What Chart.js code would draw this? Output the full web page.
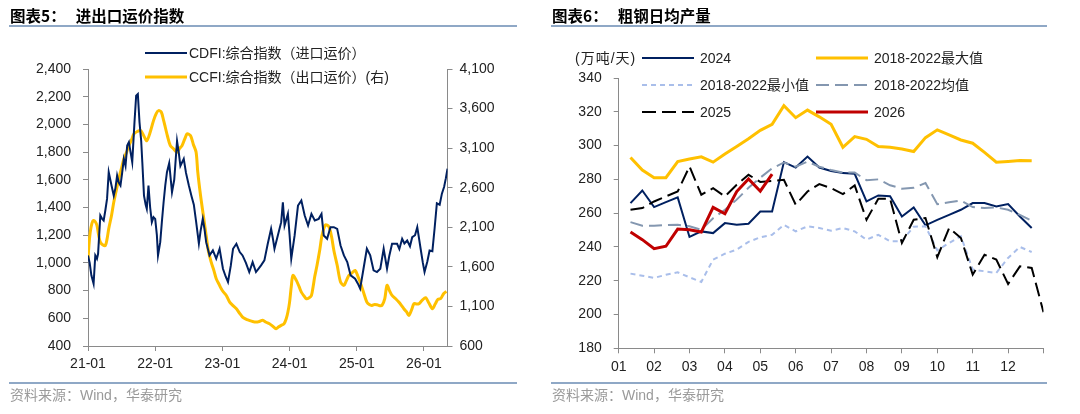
<!DOCTYPE html>
<html>
<head>
<meta charset="utf-8">
<script src="https://cdn.jsdelivr.net/npm/chart.js@4.4.1/dist/chart.umd.min.js"></script>
<style>
body{margin:0;background:#fff;}
#page{position:relative;width:1080px;height:414px;overflow:hidden;font-family:"Liberation Sans",Arial,"Noto Sans CJK SC",sans-serif;}
canvas{position:absolute;top:0;}
.ttl{position:absolute;top:6px;font-family:"Noto Sans CJK SC",sans-serif;font-weight:bold;font-size:15.5px;line-height:18px;color:#000;white-space:nowrap;z-index:2;}
.ttl span{margin-left:10px;}
.rule{position:absolute;height:2px;background:#8fa8c6;z-index:2;}
.src{position:absolute;top:386px;font-family:"Liberation Sans","Noto Sans CJK SC",sans-serif;font-size:14px;line-height:18px;color:#9a9a9a;white-space:nowrap;z-index:2;}
.lg{position:absolute;font-size:14px;line-height:16px;color:#222;white-space:nowrap;z-index:2;}
.sw{position:absolute;z-index:2;}
</style>
</head>
<body>
<div id="page">
  <canvas id="freight" width="540" height="414" style="left:0"></canvas>
  <canvas id="steel" width="540" height="414" style="left:540px"></canvas>

  <div class="ttl" style="left:10px">图表5：<span>进出口运价指数</span></div>
  <div class="rule" style="left:9px;top:25px;width:508px"></div>
  <div class="rule" style="left:9px;top:382px;width:508px"></div>
  <div class="src" style="left:10px">资料来源：Wind，华泰研究</div>

  <div class="ttl" style="left:552px">图表6：<span>粗钢日均产量</span></div>
  <div class="rule" style="left:551px;top:25px;width:496px"></div>
  <div class="rule" style="left:551px;top:382px;width:496px"></div>
  <div class="src" style="left:552px">资料来源：Wind，华泰研究</div>

  <!-- left legend -->
  <svg class="sw" style="left:145px;top:49px" width="42" height="8"><line x1="0" y1="4" x2="42" y2="4" stroke="#002060" stroke-width="2"/></svg>
  <div class="lg" style="left:189px;top:45px">CDFI:综合指数（进口运价）</div>
  <svg class="sw" style="left:145px;top:73px" width="42" height="8"><line x1="0" y1="4" x2="42" y2="4" stroke="#FFC000" stroke-width="3"/></svg>
  <div class="lg" style="left:189px;top:69px">CCFI:综合指数（出口运价）(右)</div>

  <!-- right legend -->
  <div class="lg" style="left:575px;top:50px;letter-spacing:1px">(万吨/天)</div>
  <svg class="sw" style="left:642px;top:54px" width="52" height="8"><line x1="0" y1="4" x2="52" y2="4" stroke="#002060" stroke-width="2"/></svg>
  <div class="lg" style="left:700px;top:50px">2024</div>
  <svg class="sw" style="left:816px;top:54px" width="52" height="8"><line x1="0" y1="4" x2="52" y2="4" stroke="#FFC000" stroke-width="3"/></svg>
  <div class="lg" style="left:874px;top:50px">2018-2022最大值</div>
  <svg class="sw" style="left:642px;top:81px" width="52" height="8"><line x1="0" y1="4" x2="52" y2="4" stroke="#A9BEEA" stroke-width="2" stroke-dasharray="5,4"/></svg>
  <div class="lg" style="left:700px;top:77px">2018-2022最小值</div>
  <svg class="sw" style="left:816px;top:81px" width="52" height="8"><line x1="0" y1="4" x2="52" y2="4" stroke="#8497B0" stroke-width="2" stroke-dasharray="13,6"/></svg>
  <div class="lg" style="left:874px;top:77px">2018-2022均值</div>
  <svg class="sw" style="left:642px;top:108px" width="52" height="8"><line x1="0" y1="4" x2="52" y2="4" stroke="#000" stroke-width="2" stroke-dasharray="14,6"/></svg>
  <div class="lg" style="left:700px;top:104px">2025</div>
  <svg class="sw" style="left:816px;top:108px" width="52" height="8"><line x1="0" y1="4" x2="52" y2="4" stroke="#C00000" stroke-width="3"/></svg>
  <div class="lg" style="left:874px;top:104px">2026</div>
</div>

<script>
// ---- 图表5: freight indices, x = months since 2021-01 ----
var cdfiMonth = [0,0.3,0.6,1.0,1.3,1.6,1.8,2.2,2.5,2.8,
  3.1,3.4,3.7,4.2,4.6,4.9,5.2,5.5,5.8,6.1,
  6.4,6.7,7.0,7.3,7.6,7.9,8.3,8.6,8.9,9.2,
  9.5,9.7,10.0,10.3,10.5,10.8,11.1,11.4,11.7,12.0,
  12.3,12.5,12.9,13.2,13.5,13.8,14.1,14.5,15.0,15.4,
  15.9,16.2,16.5,17.1,17.5,18.0,18.5,18.9,19.3,19.8,
  20.1,20.5,20.8,21.1,21.7,22.3,22.9,23.5,24.1,24.6,
  25.0,25.5,25.9,26.5,27.1,27.6,28.2,28.8,29.4,30.0,
  30.5,30.9,31.5,32.1,32.7,33.0,33.3,33.9,34.5,34.8,
  35.1,35.7,36.0,36.3,36.9,37.5,38.1,38.7,39.3,39.9,
  40.5,41.2,41.7,42.1,42.7,43.3,43.9,44.5,45.1,45.7,
  46.3,46.9,47.7,48.2,48.6,49.2,49.8,50.4,51.0,51.6,
  52.2,52.8,53.4,53.8,54.3,55.2,55.6,56.1,56.5,57.0,
  57.5,57.9,58.4,58.8,59.1,59.4,59.8,60.1,60.6,61.0,
  61.5,61.9,62.3,62.8,63.2,63.6,63.9,64.2];
var cdfiValue = [1054,1000,910,849,1054,1030,1066,1342,1320,1306,
  1380,1462,1655,1559,1486,1540,1631,1580,1559,1650,
  1751,1700,1847,1871,1800,1727,2015,2208,2220,2015,
  1880,1727,1486,1420,1390,1559,1400,1294,1330,1318,
  1200,1054,1150,1300,1438,1560,1655,1720,1510,1600,
  1880,1800,1700,1751,1650,1560,1480,1420,1300,1140,
  1230,1318,1246,1150,1054,1090,1030,1102,958,900,
  862,980,1102,1138,1078,1054,1000,934,1006,934,
  960,982,1018,1138,1246,1180,1102,1198,1294,1438,
  1270,1354,1200,1030,1198,1414,1450,1342,1270,1354,
  1306,1318,1354,1198,1174,1258,1258,1246,1126,1054,
  1006,910,886,850,814,958,1102,1054,946,934,
  958,1102,958,1050,1138,1138,1100,1174,1140,1162,
  1120,1186,1200,1258,1180,1102,1000,934,1010,1090,
  1085,1250,1430,1420,1500,1550,1610,1680];

var ccfiMonth = [0,0.2,0.4,0.7,1.0,1.3,1.6,1.9,2.2,2.6,
  3.1,3.4,3.7,4.2,4.6,5.0,5.5,6.0,6.4,6.9,
  7.3,7.8,8.2,8.8,9.4,10.0,10.5,11.1,11.7,12.2,
  12.6,13.1,13.5,13.8,14.2,14.7,15.3,15.9,16.4,16.8,
  17.3,17.7,18.3,18.8,19.3,19.6,20.1,20.6,21.1,21.5,
  22.0,22.5,22.9,23.4,23.8,24.2,24.7,25.3,25.9,26.5,
  27.0,27.6,28.2,28.8,29.4,30.0,30.6,31.2,31.8,32.4,
  33.0,33.6,34.0,34.5,35.0,35.4,35.7,36.0,36.3,36.6,
  37.2,37.7,38.1,38.6,39.0,39.5,39.9,40.2,40.5,40.9,
  41.4,41.8,42.4,43.0,43.5,43.9,44.5,45.1,45.7,46.1,
  46.6,47.1,47.7,48.2,48.6,49.2,49.8,50.3,50.7,51.2,
  51.6,52.1,52.5,53.0,53.4,53.9,54.3,54.9,55.5,56.0,
  56.4,56.9,57.3,57.8,58.2,58.7,59.1,59.7,60.3,60.9,
  61.5,62.0,62.5,63.0,63.5,64.0];
var ccfiValue = [1702,1900,2039,2150,2186,2170,2123,2000,1912,1880,
  1870,1950,2081,2250,2417,2550,2712,2850,2964,3050,
  3132,3210,3280,3310,3322,3250,3195,3300,3448,3540,
  3574,3553,3450,3364,3250,3132,3090,3048,3100,3132,
  3220,3280,3259,3150,3050,2800,2501,2250,1996,1800,
  1660,1550,1450,1380,1323,1280,1239,1155,1110,1071,
  1020,966,940,924,910,903,910,924,900,882,
  850,819,840,861,880,945,1030,1155,1350,1492,
  1429,1350,1281,1230,1197,1210,1239,1350,1480,1620,
  1820,2000,2130,2110,1980,1810,1620,1408,1366,1420,
  1492,1520,1555,1480,1408,1280,1155,1120,1113,1125,
  1121,1110,1113,1200,1366,1290,1239,1200,1155,1110,
  1071,1030,987,1060,1134,1130,1134,1180,1210,1140,
  1071,1130,1190,1200,1260,1290];

var freightTickLabels = ['21-01','22-01','23-01','24-01','25-01','26-01'];

// ---- 图表6: crude steel daily output, one value per ten-day period ----
var monthLabels = ['01','02','03','04','05','06','07','08','09','10','11','12'];
var steel2024 = [265.9,273.4,263.6,266.5,269.3,245.9,249.2,248.2,254.1,253.1,253.7,261,261,290.2,287,293.5,287,285,283.7,283.3,267,270.5,270,258,263.4,252.8,256,259,262,266,266,264,265.4,258,251.2];
var steelMax = [293,285.5,281,281,290.5,292,293.3,290.2,295,299.5,304,309,312.6,323.6,316.5,321,317,312.6,299,305.3,303.7,299.4,299,298,296.5,304.7,309.3,306.3,303.3,301.4,296,290.2,290.6,291.1,291];
var steelMin = [224.2,223,221.7,223.5,225,222,219.3,232.5,236,238.4,243,245.7,247.2,253.1,249.2,252.2,251.2,249.6,251.2,249.2,244.3,247.2,243.3,243.5,252,252.2,238,242.3,246.3,226.6,225.6,224.6,233.5,240,237];
var steelAvg = [254.7,252.6,252.6,253,253.1,252.2,250.2,257,262,268,275,281,286.5,290,287.5,290.5,287.5,285.5,284,284,279.5,280,276.5,274.5,275,277.8,265.3,266.5,267.5,263.6,263,263.4,262,259,255.5];
var steel2025 = [262,263,266.9,269.9,272.8,287.6,270.9,274.8,269.9,276.8,282.7,278.5,279.1,279.7,265,272.8,277.2,274.8,271.3,276.4,256.1,268.5,268.5,242.3,256.1,257.1,233.9,251.2,245.3,223.6,235.4,232.5,218.1,228.5,227.6,201.4];
var steel2026 = [248.8,244.3,239,240.4,250.6,250.2,248.8,263.4,259.6,272.8,280.3,273,283.1];

Chart.defaults.font.family = '"Liberation Sans", Arial, sans-serif';
Chart.defaults.font.size = 14;
Chart.defaults.color = '#222';
var axisGray = '#8a8a8a';

function pts(xs, ys) {
  return ys.map(function (y, i) { return {x: xs[i], y: y}; });
}
function dekads(ys) {
  return ys.map(function (y, i) { return {x: i + 1, y: y}; });
}
function width(w) { return function (s) { s.width = w; }; }
function height(h) { return function (s) { s.height = h; }; }
var tickGrid = {drawOnChartArea: false, tickLength: 5, color: axisGray};
var axisBorder = {display: true, color: axisGray, width: 1};

new Chart(document.getElementById('freight'), {
  type: 'line',
  data: {
    datasets: [
      {label: 'CDFI:综合指数（进口运价）', data: pts(cdfiMonth, cdfiValue), yAxisID: 'y',
       borderColor: '#002060', borderWidth: 2, pointRadius: 0, tension: 0},
      {label: 'CCFI:综合指数（出口运价）(右)', data: pts(ccfiMonth, ccfiValue), yAxisID: 'y1',
       borderColor: '#FFC000', borderWidth: 3, pointRadius: 0, tension: 0.3}
    ]
  },
  options: {
    responsive: false,
    animation: false,
    layout: {padding: {top: 69, left: 0, right: 0, bottom: 0}},
    plugins: {legend: {display: false}, tooltip: {enabled: false}},
    scales: {
      x: {
        type: 'linear', min: 0, max: 64.2,
        grid: tickGrid, border: axisBorder,
        ticks: {stepSize: 12, includeBounds: false, maxRotation: 0, autoSkip: false, padding: 5,
          callback: function (v) { return v % 12 === 0 ? freightTickLabels[v / 12] : ''; }},
        afterFit: height(68)
      },
      y: {
        position: 'left', min: 400, max: 2400,
        grid: tickGrid, border: axisBorder,
        ticks: {stepSize: 200, padding: 12},
        afterFit: width(88)
      },
      y1: {
        position: 'right', min: 600, max: 4100,
        grid: tickGrid, border: axisBorder,
        ticks: {stepSize: 500, padding: 7},
        afterFit: width(92.5)
      }
    }
  }
});

function steelSet(label, ys, color, w, dash, order) {
  return {label: label, data: dekads(ys), borderColor: color, borderWidth: w,
          borderDash: dash, pointRadius: 0, tension: 0, order: order};
}

new Chart(document.getElementById('steel'), {
  type: 'line',
  data: {
    datasets: [
      steelSet('2024', steel2024, '#002060', 2, [], 5),
      steelSet('2018-2022最大值', steelMax, '#FFC000', 3, [], 4),
      steelSet('2018-2022最小值', steelMin, '#A9BEEA', 2, [5, 4], 3),
      steelSet('2018-2022均值', steelAvg, '#8497B0', 2, [13, 6], 2),
      steelSet('2025', steel2025, '#000000', 2, [14, 6], 1),
      steelSet('2026', steel2026, '#C00000', 3, [], 0)
    ]
  },
  options: {
    responsive: false,
    animation: false,
    layout: {padding: {top: 78, left: 0, right: 36.5, bottom: 0}},
    plugins: {legend: {display: false}, tooltip: {enabled: false}},
    scales: {
      x: {
        type: 'linear', min: 0, max: 36,
        grid: tickGrid, border: axisBorder,
        ticks: {stepSize: 3, maxRotation: 0, autoSkip: false, padding: 5,
          callback: function (v) { return v < 36 && v % 3 === 0 ? monthLabels[v / 3] : ''; }},
        afterFit: height(65.7)
      },
      y: {
        min: 180, max: 340,
        grid: tickGrid, border: axisBorder,
        ticks: {stepSize: 20, padding: 12},
        afterFit: width(78.7)
      }
    }
  }
});
</script>
</body>
</html>
